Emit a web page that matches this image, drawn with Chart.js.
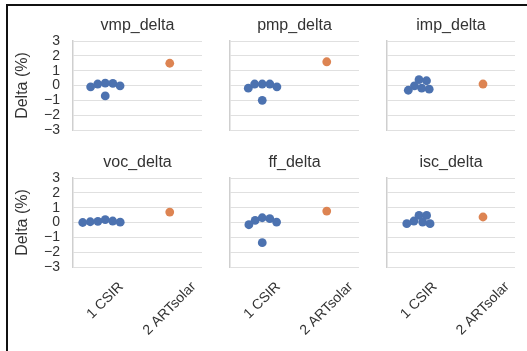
<!DOCTYPE html>
<html lang="en">
<head>
  <meta charset="utf-8">
  <title>Delta by lab</title>
  <script src="https://cdn.jsdelivr.net/npm/chart.js"></script>
  <style>
    body { margin: 0; background: #fff; width: 527px; height: 351px; overflow: hidden; position: relative; }
    .frame { position: absolute; left: 6px; top: 4px; width: 600px; height: 400px; border: 2px solid #111; }
    .panel { position: absolute; }
  </style>
</head>
<body>
<div class="frame"></div>
<div id="figure"></div>
<script>
  // data
  const categories = ['1 CSIR', '2 ARTsolar'];
  const panelTitles = ['vmp_delta', 'pmp_delta', 'imp_delta', 'voc_delta', 'ff_delta', 'isc_delta'];
  const yTicks = [3, 2, 1, 0, -1, -2, -3];

  const vmpCsir = [0.1, -0.09, 0.14, -0.02, 0.16, -0.7];
  const pmpCsir = [0.1, -0.09, -0.18, 0.1, 0.1, -1.0];
  const impCsir = [0.39, -0.25, 0.32, -0.02, -0.32, -0.18];
  const vocCsir = [0.2, 0.1, 0.05, 0.0, 0.02, 0.08];
  const ffCsir = [0.26, 0.03, 0.14, -0.15, 0.32, -1.36];
  const iscCsir = [0.1, 0.48, -0.08, 0.48, -0.08, 0.03];

  const vmpArt = [1.5];
  const pmpArt = [1.6];
  const impArt = [0.1];
  const vocArt = [0.7];
  const ffArt = [0.77];
  const iscArt = [0.37];

  const csirSeries = [vmpCsir, pmpCsir, impCsir, vocCsir, ffCsir, iscCsir];
  const artSeries = [vmpArt, pmpArt, impArt, vocArt, ffArt, iscArt];

  const BLUE = '#4c72b0';
  const ORANGE = '#dd8452';
  const TEXT = '#333333';
  const FONT = '"Liberation Sans", Arial, sans-serif';

  const colLeft = [73, 230, 387];
  const plotW = [129, 129, 128];
  const rowTop = [41, 178];
  const plotH = 89;
  const PAD_L = 70, PAD_T = 40, PAD_R = 6, PAD_B = 85;
  const SWARM_GAP = 7.6;

  // beeswarm: spread overlapping points sideways, like seaborn swarmplot
  const swarm = {
    id: 'swarm',
    afterDatasetsUpdate(chart) {
      chart.data.datasets.forEach((ds, i) => {
        const pts = chart.getDatasetMeta(i).data;
        if (!pts.length) return;
        const d = SWARM_GAP;
        const cx = pts[0].x;
        const order = pts.map((p, k) => k).sort((a, b) => pts[a].y - pts[b].y);
        const placed = [];
        order.forEach(k => {
          const y = pts[k].y;
          const cands = [0];
          placed.forEach(p => {
            const dy = Math.abs(p.y - y);
            if (dy < d) {
              const dx = Math.sqrt(d * d - dy * dy);
              cands.push(p.off + dx, p.off - dx);
            }
          });
          cands.sort((a, b) => Math.abs(a) - Math.abs(b));
          let off = 0;
          for (const c of cands) {
            if (placed.every(p => Math.hypot(p.off - c, p.y - y) >= d - 0.01)) { off = c; break; }
          }
          placed.push({ off, y });
          pts[k].x = cx + off;
        });
      });
    }
  };

  const panelText = {
    id: 'panelText',
    afterDraw(chart, args, opts) {
      const { ctx, chartArea: { left, right, top, bottom } } = chart;
      ctx.save();
      ctx.fillStyle = TEXT;
      ctx.font = '16px ' + FONT;
      ctx.textAlign = 'center';
      ctx.textBaseline = 'middle';
      ctx.fillText(opts.title, (left + right) / 2, top - 15);

      if (opts.yLabel) {
        ctx.save();
        ctx.translate(20, (top + bottom) / 2);
        ctx.rotate(-Math.PI / 2);
        ctx.fillText('Delta (%)', 0, 0);
        ctx.restore();
      }

      if (opts.xLabels) {
        const xs = chart.scales.x;
        ctx.font = '14px ' + FONT;
        categories.forEach((lab, i) => {
          const w = ctx.measureText(lab).width;
          const h = 10;
          const cy = bottom + 14 + (w + h) * Math.SQRT1_2 / 2;
          ctx.save();
          ctx.translate(xs.getPixelForValue(i), cy);
          ctx.rotate(-Math.PI / 4);
          ctx.fillText(lab, 0, 0);
          ctx.restore();
        });
      }
      ctx.restore();
    }
  };

  const fig = document.getElementById('figure');
  panelTitles.forEach((title, n) => {
    const r = Math.floor(n / 3), c = n % 3;
    const w = plotW[c] + PAD_L + PAD_R;
    const h = plotH + PAD_T + PAD_B;
    const box = document.createElement('div');
    box.className = 'panel';
    box.style.left = (colLeft[c] - PAD_L) + 'px';
    box.style.top = (rowTop[r] - PAD_T) + 'px';
    box.style.width = w + 'px';
    box.style.height = h + 'px';
    const canvas = document.createElement('canvas');
    box.appendChild(canvas);
    fig.appendChild(box);

    new Chart(canvas, {
      type: 'scatter',
      data: {
        datasets: [
          {
            label: categories[0],
            data: csirSeries[n].map(v => ({ x: 0, y: v })),
            backgroundColor: BLUE,
            pointRadius: 4.4,
            borderWidth: 0,
          },
          {
            label: categories[1],
            data: artSeries[n].map(v => ({ x: 1, y: v })),
            backgroundColor: ORANGE,
            pointRadius: 4.4,
            borderWidth: 0,
          }
        ]
      },
      options: {
        responsive: true,
        maintainAspectRatio: false,
        animation: false,
        events: [],
        layout: { padding: { left: 10, top: PAD_T, right: PAD_R, bottom: PAD_B } },
        plugins: {
          legend: { display: false },
          tooltip: { enabled: false },
          panelText: { title: title, yLabel: c === 0, xLabels: r === 1 }
        },
        scales: {
          x: {
            type: 'linear',
            display: false,
            min: -0.5,
            max: 1.5,
          },
          y: {
            min: -3,
            max: 3,
            afterFit: (scale) => { scale.width = PAD_L - 10; },
            afterBuildTicks: (scale) => { scale.ticks = yTicks.map(v => ({ value: v })); },
            grid: { color: '#e0e0e0', lineWidth: 1, drawTicks: false },
            border: { display: true, color: '#cfcfcf', width: 1.5 },
            ticks: {
              display: c === 0,
              autoSkip: false,
              padding: 13,
              color: TEXT,
              font: { family: FONT, size: 14 },
              callback: (v) => String(v).replace('-', '\u2212'),
            }
          }
        }
      },
      plugins: [swarm, panelText]
    });
  });
</script>
</body>
</html>
